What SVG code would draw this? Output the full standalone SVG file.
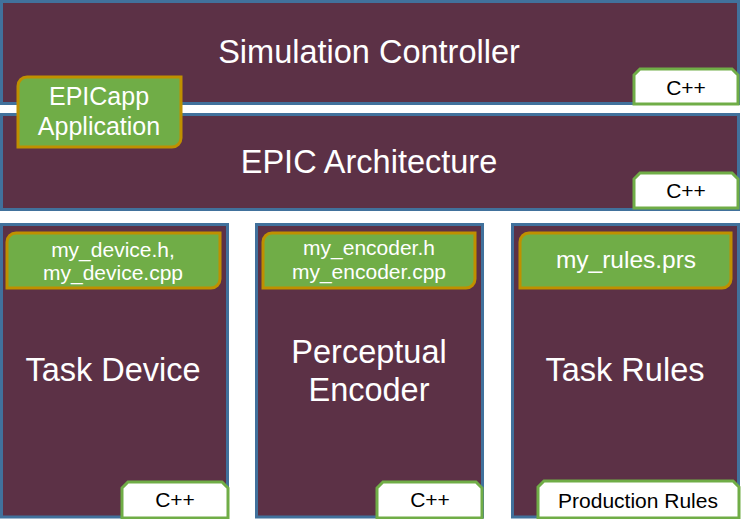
<svg xmlns="http://www.w3.org/2000/svg" width="741" height="519" viewBox="0 0 741 519">
<style>
.box{fill:#5C3146;stroke:#41719C;stroke-width:3}
.file{fill:#70AD47;stroke:#BF9000;stroke-width:3}
.tag{fill:#FFFFFF;stroke:#70AD47;stroke-width:3}
.big{font-family:"Liberation Sans",Arial,sans-serif;font-size:32.5px;fill:#FFFFFF;text-anchor:middle}
.ft{font-family:"Liberation Sans",Arial,sans-serif;font-size:21px;fill:#FFFFFF;text-anchor:middle}
.tt{font-family:"Liberation Sans",Arial,sans-serif;font-size:21px;fill:#000000;text-anchor:middle}
</style>
<rect width="741" height="519" fill="#FFFFFF"/>
<g id="sim-controller">
<rect class="box" x="1.5" y="1.5" width="737" height="102"/>
<text class="big" x="369" y="63">Simulation Controller</text>
<path class="tag" d="M634,75 L640,69 L732,69 L738,75 L738,104 L634,104 Z"/>
<text class="tt" x="686" y="95">C++</text>
</g>
<g id="epic-arch">
<rect class="box" x="1.5" y="114.5" width="737" height="95"/>
<text class="big" x="369" y="173">EPIC Architecture</text>
<path class="tag" d="M634,179 L640,173 L732,173 L738,179 L738,208 L634,208 Z"/>
<text class="tt" x="686" y="198">C++</text>
</g>
<g id="epicapp">
<path class="file" d="M27,77 L181,77 L181,138 A9,9 0 0 1 172,147 L18,147 L18,86 A9,9 0 0 1 27,77 Z"/>
<text class="ft" x="99" y="105" style="font-size:25px">EPICapp</text>
<text class="ft" x="99" y="135" style="font-size:25px">Application</text>
</g>
<g id="task-device">
<rect class="box" x="1.5" y="224.5" width="226" height="292.5"/>
<path class="file" d="M16,233 L220,233 L220,279 A9,9 0 0 1 211,288 L7,288 L7,242 A9,9 0 0 1 16,233 Z"/>
<text class="ft" x="113" y="257">my_device.h,</text>
<text class="ft" x="113" y="280">my_device.cpp</text>
<text class="big" x="113" y="381">Task Device</text>
<path class="tag" d="M122,488 L128,482 L222,482 L228,488 L228,518 L122,518 Z"/>
<text class="tt" x="175" y="507">C++</text>
</g>
<g id="perceptual-encoder">
<rect class="box" x="256.5" y="224.5" width="226" height="292.5"/>
<path class="file" d="M272,233 L475,233 L475,279 A9,9 0 0 1 466,288 L263,288 L263,242 A9,9 0 0 1 272,233 Z"/>
<text class="ft" x="369" y="255">my_encoder.h</text>
<text class="ft" x="369" y="279">my_encoder.cpp</text>
<text class="big" x="369" y="363">Perceptual</text>
<text class="big" x="369" y="401">Encoder</text>
<path class="tag" d="M377,488 L383,482 L476,482 L482,488 L482,518 L377,518 Z"/>
<text class="tt" x="430" y="507">C++</text>
</g>
<g id="task-rules">
<rect class="box" x="512.5" y="224.5" width="226" height="292.5"/>
<path class="file" d="M529,233 L731,233 L731,279 A9,9 0 0 1 722,288 L520,288 L520,242 A9,9 0 0 1 529,233 Z"/>
<text class="ft" x="626" y="268" style="font-size:24.5px">my_rules.prs</text>
<text class="big" x="625" y="381">Task Rules</text>
<path class="tag" d="M538,487 L544,481 L733,481 L739,487 L739,518 L538,518 Z"/>
<text class="tt" x="638" y="508">Production Rules</text>
</g>
<g id="connectors"/>
</svg>
